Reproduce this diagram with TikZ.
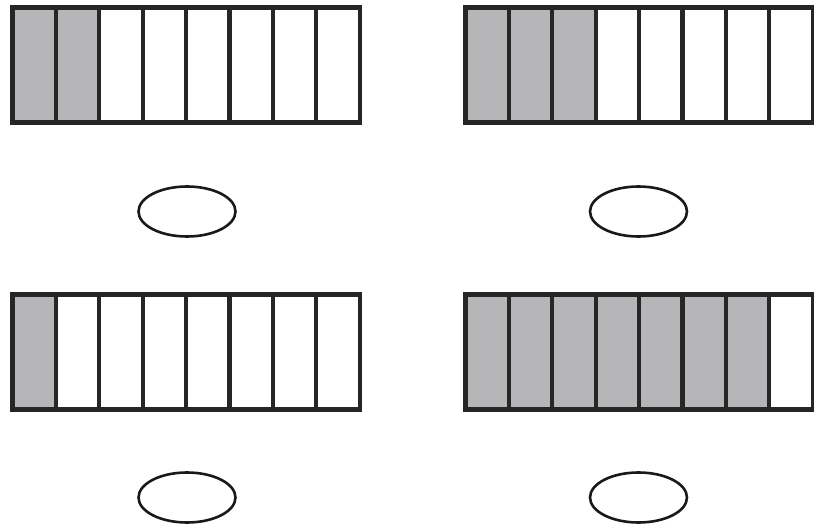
\documentclass[tikz,border=0pt]{standalone}
\definecolor{cellgray}{RGB}{182,182,184}
\tikzset{
  cellbox/.style={draw=black!85, line width=4.3pt, fill=#1},
  cellbox/.default=white,
  oval/.style={draw=black!90, line width=2.6pt}
}
\begin{document}
\begin{tikzpicture}[x=1pt,y=-1pt]
\useasboundingbox (0,0) rectangle (814,532);
% bar drawer: #1 left x, #2 top y, #3 number of gray cells
\foreach \lx/\ty/\ng in {12.5/7.5/2, 465.5/7.5/3, 12.5/294.5/1, 465.5/294.5/7}{
  \foreach \i in {1,...,8}{
    \pgfmathsetmacro{\xa}{\lx+(\i-1)*43.4}
    \pgfmathsetmacro{\xb}{\lx+\i*43.4}
    \ifnum\i>\ng
      \draw[cellbox] (\xa,\ty) rectangle (\xb,\ty+115);
    \else
      \draw[cellbox=cellgray] (\xa,\ty) rectangle (\xb,\ty+115);
    \fi
  }
}
\draw[oval] (187,211.5) ellipse [x radius=48.5, y radius=25];
\draw[oval] (638.5,211.5) ellipse [x radius=48.5, y radius=25];
\draw[oval] (187,497.5) ellipse [x radius=48.5, y radius=25];
\draw[oval] (638.5,497.5) ellipse [x radius=48.5, y radius=25];
\end{tikzpicture}
\end{document}
